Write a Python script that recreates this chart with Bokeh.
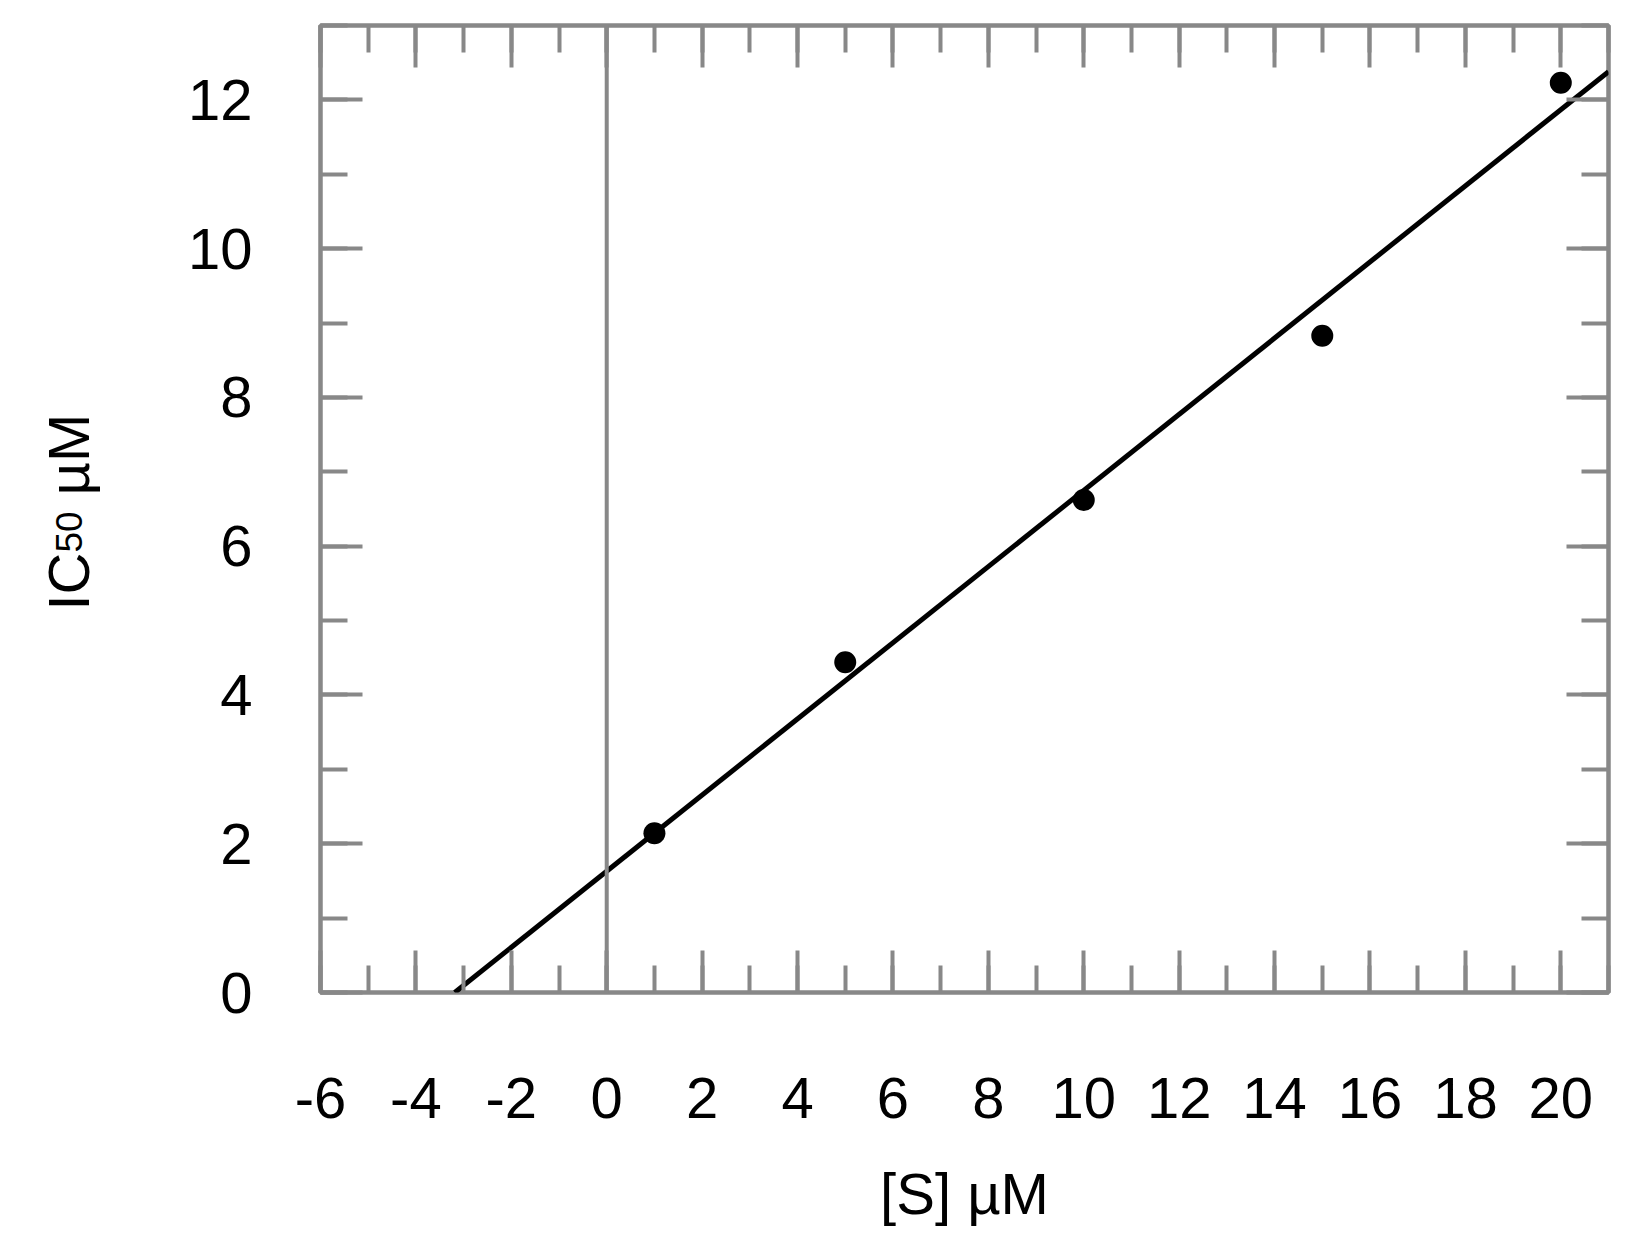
import numpy as np

from bokeh.core.properties import value
from bokeh.embed import file_html
from bokeh.layouts import row
from bokeh.models import (CustomJSTickFormatter, LinearAxis, PrintfTickFormatter,
                          SingleIntervalTicker, Span)
from bokeh.plotting import figure
from bokeh.resources import INLINE

# substrate concentration [S] (uM) and measured IC50 (uM)
s_conc = [1, 5, 10, 15, 20]
ic50 = [2.14, 4.44, 6.62, 8.83, 12.23]

x_lim = (-6, 21)
y_lim = (0, 13)

FONT = "Liberation Sans"
GRAY = "#888888"

FW, FH = 1288, 967
TITLE_W = 100   # narrow strip on the left holding the y axis title
TOP = 25

p = figure(x_range=x_lim, y_range=y_lim,
           frame_width=FW, frame_height=FH,
           min_border_left=320 - TITLE_W, min_border_right=12,
           min_border_top=TOP, min_border_bottom=225,
           x_axis_location=None, y_axis_location=None,
           output_backend="svg", toolbar_location=None,
           background_fill_color="white", border_fill_color="white")
p.outline_line_color = GRAY
p.outline_line_width = 4.5
p.grid.visible = False


def make_axis(show_labels):
    ax = LinearAxis(ticker=SingleIntervalTicker(interval=2, num_minor_ticks=2))
    ax.axis_line_color = None
    ax.major_tick_in = 42
    ax.major_tick_out = 0
    ax.minor_tick_in = 27
    ax.minor_tick_out = 0
    ax.major_tick_line_color = GRAY
    ax.major_tick_line_width = 4
    ax.minor_tick_line_color = GRAY
    ax.minor_tick_line_width = 4
    ax.major_label_text_font = FONT
    ax.major_label_text_color = "black"
    ax.major_label_text_font_size = "58px"
    if show_labels:
        ax.formatter = PrintfTickFormatter(format="%d")
    else:
        ax.formatter = CustomJSTickFormatter(code="return ''")
        ax.major_label_standoff = 0
    return ax


xb = make_axis(True)
xb.major_label_standoff = 85
xb.axis_label = "[S] \u00b5M"
xb.axis_label_text_font = FONT
xb.axis_label_text_font_size = "58px"
xb.axis_label_text_font_style = "normal"
xb.axis_label_text_color = "black"
xb.axis_label_standoff = 40
p.add_layout(xb, "below")
p.add_layout(make_axis(False), "above")

yl = make_axis(True)
yl.major_label_standoff = 68
p.add_layout(yl, "left")
p.add_layout(make_axis(False), "right")

# vertical line at [S] = 0
p.add_layout(Span(location=0, dimension="height", line_color=GRAY, line_width=4))

# linear fit of the points, drawn from the x-intercept to the end of the axis
slope, icept = np.polyfit(s_conc, ic50, 1)
x0 = -icept / slope
fit_x = [x0, x_lim[1]]
fit_y = [slope * x + icept for x in fit_x]
p.line(fit_x, fit_y, line_color="black", line_width=5)

p.scatter(s_conc, ic50, size=22, fill_color="black", line_color=None)

# y axis title "IC50 uM" with subscript 50, drawn in a strip left of the plot.
# the strip's frame lines up with the main frame; units are pixels,
# x from the strip's left edge, y up from the frame bottom
t = figure(frame_width=TITLE_W, frame_height=FH,
           x_range=(0, TITLE_W), y_range=(0, FH),
           min_border=0, x_axis_location=None, y_axis_location=None,
           output_backend="svg", toolbar_location=None,
           background_fill_color="white", border_fill_color="white")
t.outline_line_color = None
t.grid.visible = False

bottom = TOP + FH
base_x = 68
title_parts = ["IC", "50", "\u00b5M"]
part_sizes = ["58px", "37px", "58px"]
part_start = [610, 552, 495]   # page y where each piece begins (reading upward)
for txt, size, y0 in zip(title_parts, part_sizes, part_start):
    t.text(x=[base_x], y=[bottom - y0], text=[txt], angle=np.pi / 2,
           text_font=value(FONT), text_font_size=size,
           text_align="left", text_baseline="alphabetic", text_color="black")

layout = row(t, p, spacing=0)

open("out.html", "w").write(file_html(layout, INLINE))
